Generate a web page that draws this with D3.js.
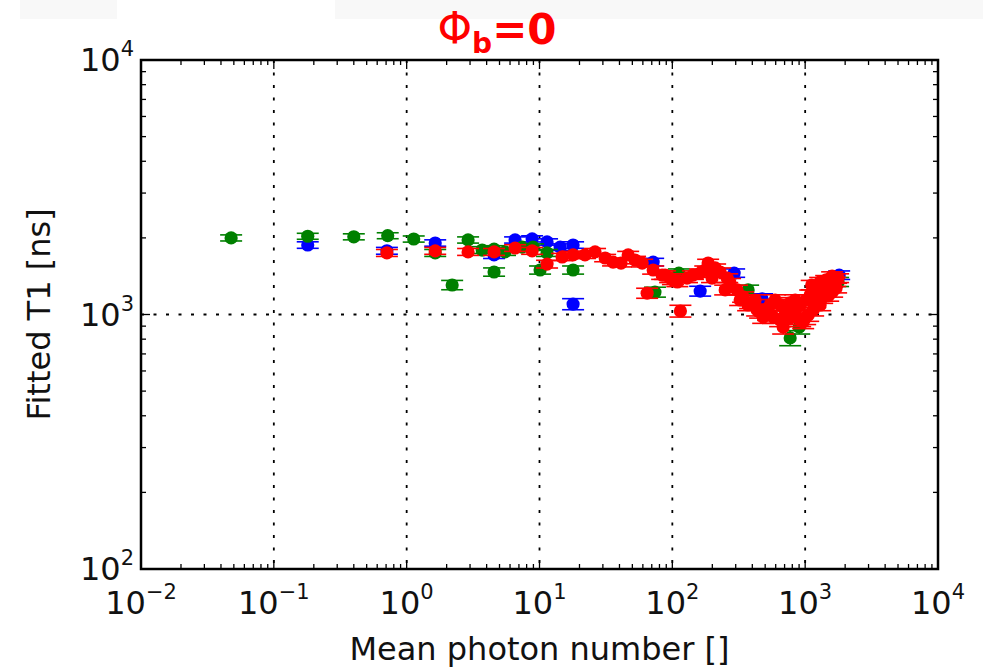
<!DOCTYPE html>
<html>
<head>
<meta charset="utf-8">
<script src="https://cdn.jsdelivr.net/npm/d3@7"></script>
<style>
  body { margin: 0; background: #fff; }
  svg { display: block; font-family: 'DejaVu Sans', sans-serif; }
</style>
</head>
<body>
<svg id="chart"></svg>
<script>
// mean photon number [], fitted T1 [ns]
const blueData = [
    [0.18, 1875], [0.71, 1780], [1.64, 1910], [4.55, 1715], [6.55, 1963],
    [8.8, 1983], [11.4, 1928], [14.3, 1840], [17.9, 1875], [17.9, 1099],
    [71.7, 1607], [162, 1236], [292, 1455], [474, 1151], [1803, 1428]
];
const greenData = [
    [0.0477, 2000], [0.18, 2030], [0.40, 2020], [0.72, 2040], [1.13, 1980],
    [1.64, 1746], [2.2, 1306], [2.9, 1963], [3.7, 1792], [4.55, 1808],
    [4.55, 1469], [5.5, 1762], [7.4, 1840], [8.95, 1840], [10.1, 1496],
    [11.4, 1746], [17.9, 1496], [74, 1225], [112, 1455], [372, 1249],
    [771, 809], [902, 893], [1770, 1343]
];
const redData = [
    [0.71, 1746], [1.64, 1779], [2.9, 1762], [4.55, 1762], [6.55, 1825],
    [8.8, 1779], [11.4, 1578], [14.8, 1683], [17.9, 1715], [22, 1715],
    [26.2, 1762], [31.2, 1667], [35.8, 1607], [41.1, 1593], [46.5, 1715],
    [52.4, 1637], [59.3, 1593], [64.6, 1213], [71.7, 1496], [83.8, 1429],
    [88.3, 1429], [96.2, 1390], [101, 1366], [109, 1342], [115, 1032],
    [129, 1390], [143, 1429], [162, 1455], [177, 1496], [186, 1593],
    [199, 1390], [210, 1524], [229, 1469], [250, 1249], [259, 1390],
    [272, 1330], [307, 1249], [324, 1140], [341, 1172], [372, 1090],
    [385, 1110], [420, 1140], [435, 1042], [458, 1023], [483, 978],
    [500, 1042], [526, 1003], [545, 1090], [574, 978], [594, 1140],
    [648, 951], [648, 1090], [683, 893], [707, 1042], [771, 968],
    [771, 1110], [841, 1023], [841, 1140], [917, 1090], [917, 951],
    [966, 935], [1000, 968], [1018, 1140], [1054, 995], [1091, 1193],
    [1120, 1306], [1148, 1042], [1189, 1120], [1253, 1225], [1297, 1090],
    [1297, 1343], [1343, 1161], [1416, 1271], [1439, 1367], [1490, 1183],
    [1542, 1306], [1596, 1225], [1596, 1416], [1683, 1343], [1710, 1271],
    [1770, 1390]
];
const yErr = 55;   // typical error bar half-height [ns]
const xTickExps = [-2, -1, 0, 1, 2, 3, 4];
const yTickExps = [2, 3, 4];

class LogScatter {
    constructor(config) {
        this.config = {
            parent: config.parent,
            width: config.width || 983,
            height: config.height || 669,
            margin: config.margin || { top: 60, right: 45, bottom: 100, left: 141 }
        };
        this.init();
    }

    init() {
        let self = this;
        self.svg = d3.select(self.config.parent)
            .attr('width', self.config.width)
            .attr('height', self.config.height);

        // faint slide background bands at the very top
        self.svg.append('rect').attr('x', 20).attr('y', 0).attr('width', 97).attr('height', 19).attr('fill', '#f8f8f8');
        self.svg.append('rect').attr('x', 335).attr('y', 0).attr('width', 648).attr('height', 19).attr('fill', '#f8f8f8');

        self.inner_width = self.config.width - self.config.margin.left - self.config.margin.right;
        self.inner_height = self.config.height - self.config.margin.top - self.config.margin.bottom;

        self.chart = self.svg.append('g')
            .attr('transform', `translate(${self.config.margin.left}, ${self.config.margin.top})`);

        self.xscale = d3.scaleLog().domain([1e-2, 1e4]).range([0, self.inner_width]);
        self.yscale = d3.scaleLog().domain([1e2, 1e4]).range([self.inner_height, 0]);

        self.render();
    }

    render() {
        let self = this;
        const W = self.inner_width, H = self.inner_height;
        const xs = self.xscale, ys = self.yscale;

        // dotted grid at decades
        const grid = self.chart.append('g')
            .attr('stroke', '#000').attr('stroke-width', 1.8)
            .attr('stroke-dasharray', '3,9.5');
        xTickExps.slice(1, -1).forEach(e => {
            grid.append('line').attr('x1', xs(10 ** e)).attr('x2', xs(10 ** e)).attr('y1', 0).attr('y2', H);
        });
        yTickExps.slice(1, -1).forEach(e => {
            grid.append('line').attr('y1', ys(10 ** e)).attr('y2', ys(10 ** e)).attr('x1', 0).attr('x2', W);
        });

        // ticks (inward, all four sides)
        function minorOf(exps) {
            let out = [];
            exps.slice(0, -1).forEach(e => { for (let k = 2; k <= 9; k++) out.push(k * 10 ** e); });
            return out;
        }
        const xMajor = xTickExps.map(e => 10 ** e);
        const yMajor = yTickExps.map(e => 10 ** e);
        const xMinor = minorOf(xTickExps), yMinor = minorOf(yTickExps);
        const ticks = self.chart.append('g').attr('stroke', '#000').attr('stroke-width', 1.3);
        const tick = (x1, y1, x2, y2) => ticks.append('line').attr('x1', x1).attr('y1', y1).attr('x2', x2).attr('y2', y2);
        xMajor.forEach(v => { tick(xs(v), H, xs(v), H - 9); tick(xs(v), 0, xs(v), 9); });
        xMinor.forEach(v => { tick(xs(v), H, xs(v), H - 5); tick(xs(v), 0, xs(v), 5); });
        yMajor.forEach(v => { tick(0, ys(v), 9, ys(v)); tick(W, ys(v), W - 9, ys(v)); });
        yMinor.forEach(v => { tick(0, ys(v), 5, ys(v)); tick(W, ys(v), W - 5, ys(v)); });

        // data with error bars
        const series = [
            { data: blueData, color: '#0000ff' },
            { data: greenData, color: '#008000' },
            { data: redData, color: '#ff0000' }
        ];
        series.forEach(s => {
            const g = self.chart.append('g');
            const pts = g.selectAll('g').data(s.data).enter().append('g');
            pts.append('line')
                .attr('x1', d => xs(d[0])).attr('x2', d => xs(d[0]))
                .attr('y1', d => ys(d[1] - yErr)).attr('y2', d => ys(d[1] + yErr))
                .attr('stroke', s.color).attr('stroke-width', 1.6);
            [-1, 1].forEach(sg => {
                pts.append('line')
                    .attr('x1', d => xs(d[0]) - 11).attr('x2', d => xs(d[0]) + 11)
                    .attr('y1', d => ys(d[1] + sg * yErr)).attr('y2', d => ys(d[1] + sg * yErr))
                    .attr('stroke', s.color).attr('stroke-width', 1.6);
            });
            pts.append('circle')
                .attr('cx', d => xs(d[0])).attr('cy', d => ys(d[1]))
                .attr('r', 6.6).attr('fill', s.color);
        });

        // frame
        self.chart.append('rect')
            .attr('width', W).attr('height', H)
            .attr('fill', 'none').attr('stroke', '#000').attr('stroke-width', 2.5);

        // tick labels
        const xl = self.chart.append('g').attr('font-size', 32).attr('fill', '#111');
        xTickExps.forEach(e => {
            const t = xl.append('text').attr('x', xs(10 ** e)).attr('y', H + 45).attr('text-anchor', 'middle');
            t.append('tspan').text('10');
            t.append('tspan').attr('dy', -15).attr('font-size', 21).text(String(e).replace('-', '\u2212'));
        });
        const yl = self.chart.append('g').attr('font-size', 32).attr('fill', '#111');
        yTickExps.forEach(e => {
            const t = yl.append('text').attr('x', -7).attr('y', ys(10 ** e) + 11).attr('text-anchor', 'end');
            t.append('tspan').text('10');
            t.append('tspan').attr('dy', -15).attr('font-size', 21).text(e);
        });

        // axis labels
        self.svg.append('text')
            .attr('x', self.config.margin.left + W / 2).attr('y', 660)
            .attr('text-anchor', 'middle').attr('font-size', 32).attr('fill', '#111')
            .text('Mean photon number []');
        self.svg.append('text')
            .attr('transform', `translate(50, ${self.config.margin.top + H / 2}) rotate(-90)`)
            .attr('text-anchor', 'middle').attr('font-size', 32).attr('fill', '#111')
            .text('Fitted T1 [ns]');

        // title
        const title = self.svg.append('text')
            .attr('x', 497).attr('y', 44).attr('text-anchor', 'middle')
            .attr('fill', '#ff0000');
        title.append('tspan').attr('font-size', 44).text('\u03A6');
        title.append('tspan').attr('font-size', 28).attr('font-weight', 'bold').attr('dy', 9).text('b');
        title.append('tspan').attr('font-size', 42).attr('font-weight', 'bold').attr('dy', -9).text('=0');
    }
}

new LogScatter({ parent: '#chart' });
</script>
</body>
</html>
